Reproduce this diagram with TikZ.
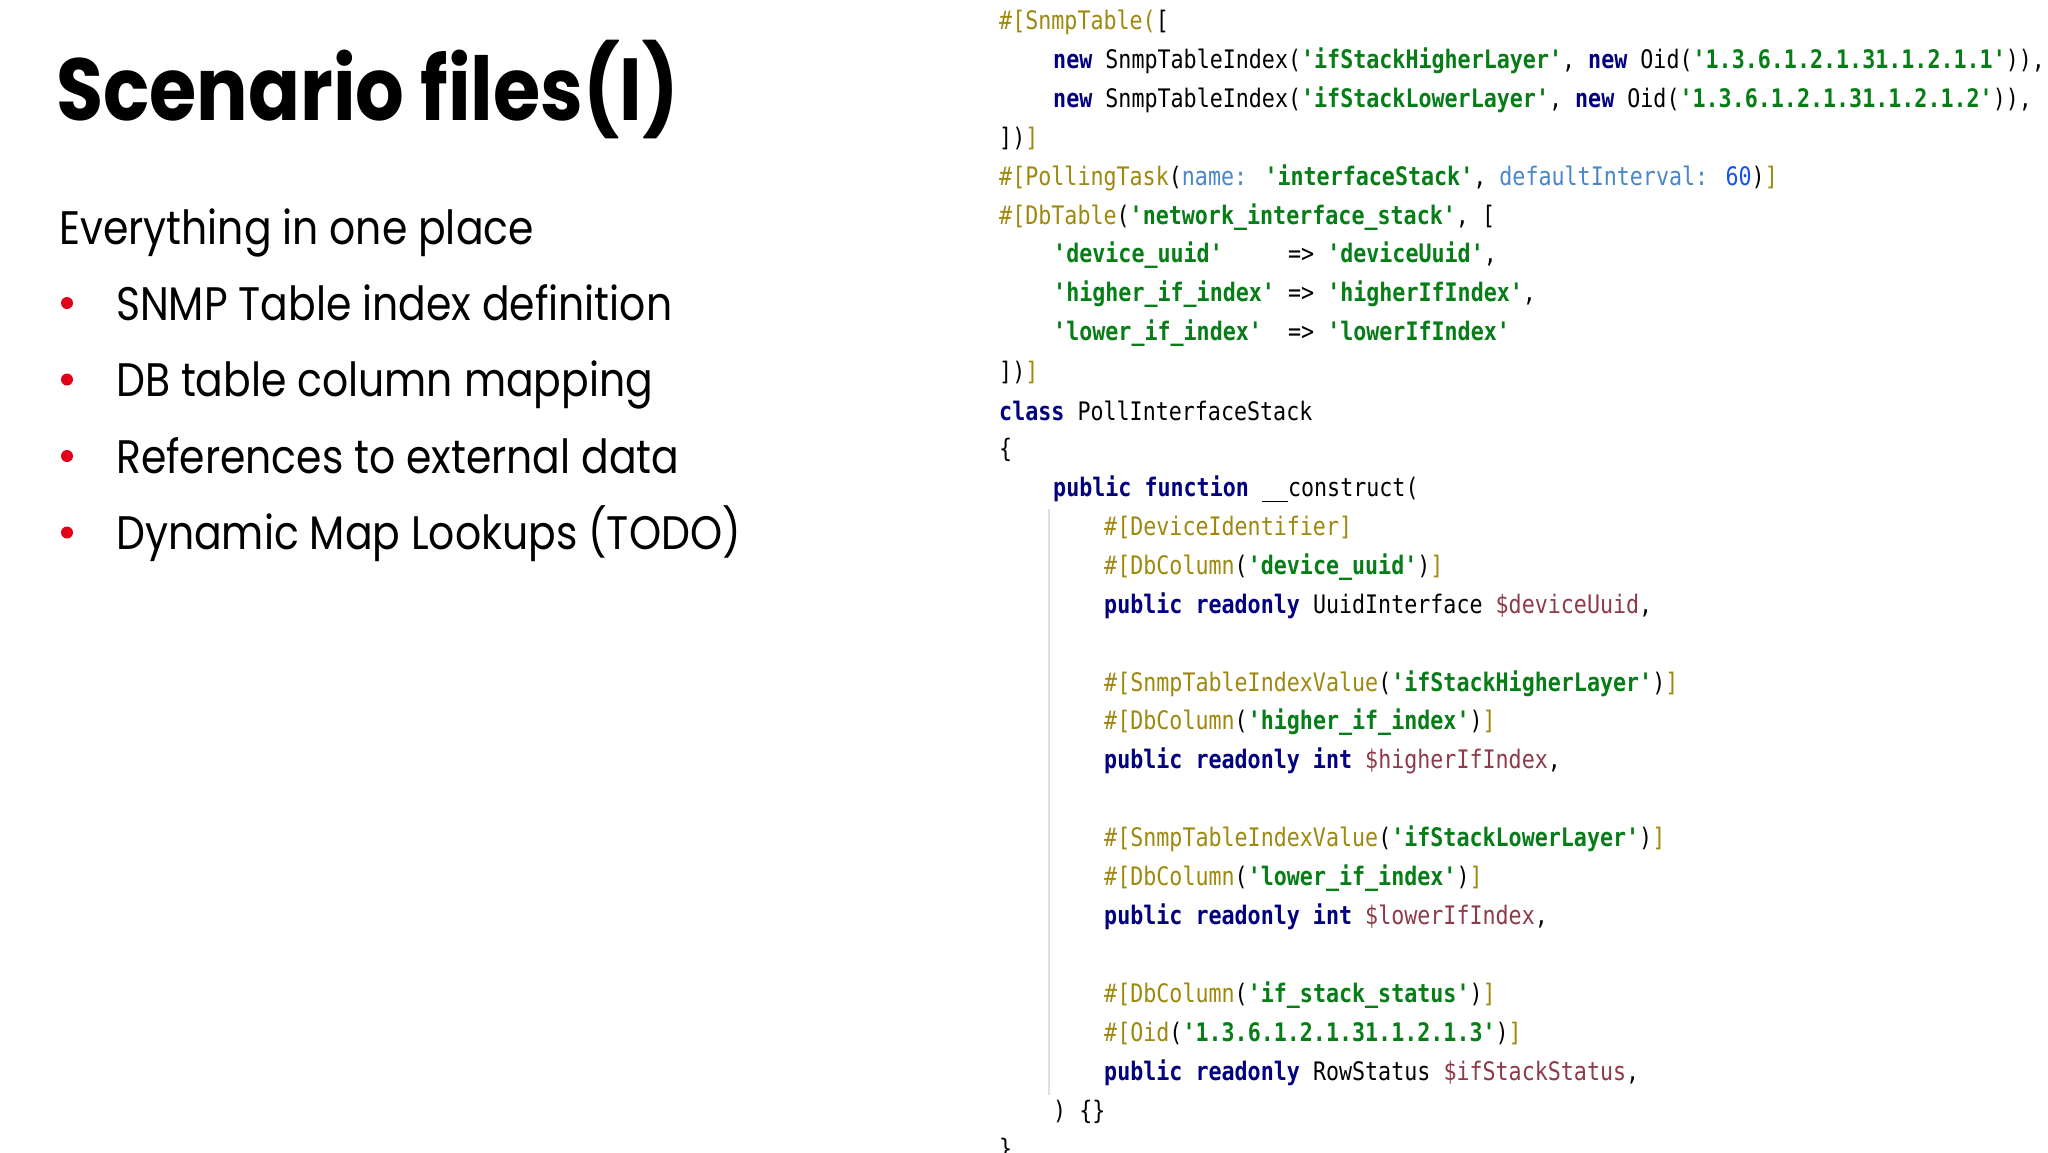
\documentclass[tikz,border=0pt]{standalone}
\usepackage{fontspec}
\setmainfont[FakeStretch=0.87]{Poppins}
\newfontfamily\codefont[FakeStretch=0.85]{DejaVu Sans Mono}
\definecolor{kwc}{HTML}{000080}
\definecolor{strc}{HTML}{067D17}
\definecolor{annc}{HTML}{9E880D}
\definecolor{varc}{HTML}{8E3A4A}
\definecolor{parc}{HTML}{4A86C8}
\definecolor{numc}{HTML}{1750EB}
\definecolor{bulc}{HTML}{E2001A}
\newcommand\ckw[1]{\textcolor{kwc}{\bfseries #1}}
\newcommand\cstr[1]{\textcolor{strc}{\bfseries #1}}
\newcommand\cann[1]{\textcolor{annc}{#1}}
\newcommand\cvar[1]{\textcolor{varc}{#1}}
\newcommand\cpar[1]{\textcolor{parc}{#1}}
\newcommand\cnumb[1]{\textcolor{numc}{#1}}
\begin{document}
\begin{tikzpicture}[x=1pt,y=-1pt,
  code/.style={anchor=west,inner sep=0pt,font=\codefont\fontsize{25.5}{28}\selectfont},
  bul/.style={anchor=base west,inner sep=0pt,font=\fontsize{47}{50}\selectfont}]
\useasboundingbox[fill=white] (0,0) rectangle (2048,1152);
\node[anchor=base west,inner sep=0pt,font=\fontsize{88}{90}\selectfont\bfseries] (title) at (56,120) {Scenario files(I)};
\node[bul] (sub) at (59,244) {Everything in one place};
\foreach \t [count=\i] in {SNMP Table index definition,DB table column mapping,References to external data,Dynamic Map Lookups (TODO)}{
  \fill[bulc] (67,320+76.5*\i-76.5-17) circle (6);
  \node[bul] (b\i) at (116,320+76.5*\i-76.5) {\t};
}
\draw[black!12,line width=1.2pt] (1049,509) -- (1049,1095);
\def\L#1#2#3{\node[code] (l#1) at (999+#2,22.2+38.9*#1) {#3};}
\L{0}{0}{\cann{\#[SnmpTable(}[}
\L{1}{54}{\ckw{new} SnmpTableIndex(\cstr{'ifStackHigherLayer'}, \ckw{new} Oid(\cstr{'1.3.6.1.2.1.31.1.2.1.1'})),}
\L{2}{54}{\ckw{new} SnmpTableIndex(\cstr{'ifStackLowerLayer'}, \ckw{new} Oid(\cstr{'1.3.6.1.2.1.31.1.2.1.2'})),}
\L{3}{0}{])\cann{]}}
\L{4}{0}{\cann{\#[PollingTask}(\cpar{name:} \cstr{'interfaceStack'}, \cpar{defaultInterval:} \cnumb{60})\cann{]}}
\L{5}{0}{\cann{\#[DbTable}(\cstr{'network\_interface\_stack'}, [}
\L{6}{54}{\cstr{'device\_uuid'}\ \ \ \ \ => \cstr{'deviceUuid'},}
\L{7}{54}{\cstr{'higher\_if\_index'} => \cstr{'higherIfIndex'},}
\L{8}{54}{\cstr{'lower\_if\_index'}\ \ => \cstr{'lowerIfIndex'}}
\L{9}{0}{])\cann{]}}
\L{10}{0}{\ckw{class} PollInterfaceStack}
\L{11}{0}{\{}
\L{12}{54}{\ckw{public function} \_\_construct(}
\L{13}{105}{\cann{\#[DeviceIdentifier]}}
\L{14}{105}{\cann{\#[DbColumn}(\cstr{'device\_uuid'})\cann{]}}
\L{15}{105}{\ckw{public readonly} UuidInterface \cvar{\$deviceUuid},}
\L{17}{105}{\cann{\#[SnmpTableIndexValue}(\cstr{'ifStackHigherLayer'})\cann{]}}
\L{18}{105}{\cann{\#[DbColumn}(\cstr{'higher\_if\_index'})\cann{]}}
\L{19}{105}{\ckw{public readonly int} \cvar{\$higherIfIndex},}
\L{21}{105}{\cann{\#[SnmpTableIndexValue}(\cstr{'ifStackLowerLayer'})\cann{]}}
\L{22}{105}{\cann{\#[DbColumn}(\cstr{'lower\_if\_index'})\cann{]}}
\L{23}{105}{\ckw{public readonly int} \cvar{\$lowerIfIndex},}
\L{25}{105}{\cann{\#[DbColumn}(\cstr{'if\_stack\_status'})\cann{]}}
\L{26}{105}{\cann{\#[Oid}(\cstr{'1.3.6.1.2.1.31.1.2.1.3'})\cann{]}}
\L{27}{105}{\ckw{public readonly} RowStatus \cvar{\$ifStackStatus},}
\L{28}{54}{) \{\}}
\L{29}{0}{\}}
\end{tikzpicture}
\end{document}
